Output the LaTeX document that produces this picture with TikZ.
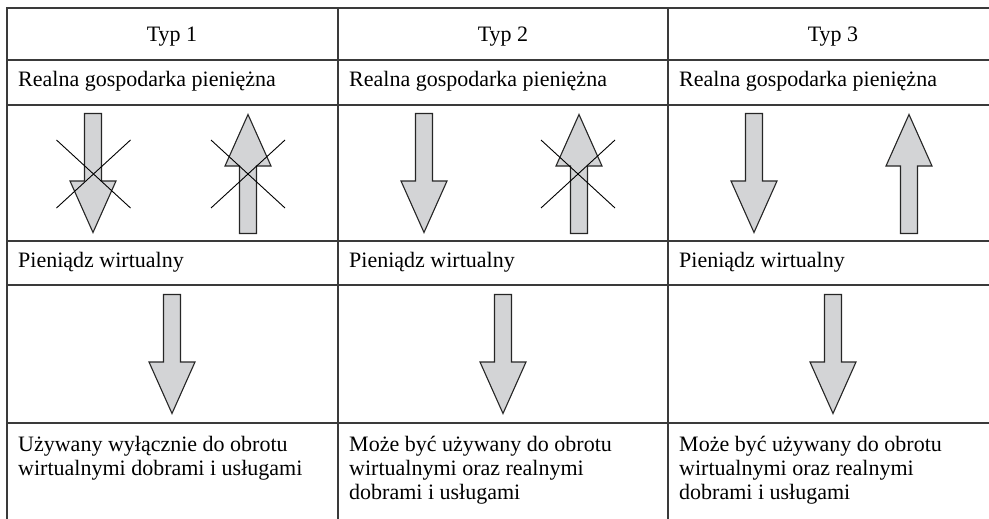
\documentclass[tikz,border=0pt]{standalone}
\usepackage{tikz}
\usepackage{xcolor}
\usepackage{fontspec}
\setmainfont{Liberation Serif}

\definecolor{rulegray}{HTML}{3A3A3A}
\definecolor{arrowfill}{HTML}{D3D4D6}

\tikzset{
  rule/.style={draw=rulegray, line width=1.3pt, line cap=rect},
  cell/.style={anchor=base west, inner sep=0pt, align=left,
    font=\fontsize{22}{24}\selectfont},
  head/.style={anchor=base, inner sep=0pt, font=\fontsize{22}{24}\selectfont},
  strike/.style={draw=black, line width=0.9pt},
  blockarrow/.pic={
    \draw[draw=black!85, fill=arrowfill, line width=1.1pt, line join=miter]
      (-8.5,-59.5) -- (8.5,-59.5) -- (8.5,8) -- (23,8) -- (0,59.5)
      -- (-23,8) -- (-8.5,8) -- cycle;
  },
  crossout/.pic={
    \draw[strike] (-37,-34) -- (37,34);
    \draw[strike] (-37,34) -- (37,-34);
  }
}

\begin{document}
\begin{tikzpicture}[x=1pt,y=-1pt]
		\useasboundingbox (0,0) rectangle (989,519);
		
		% Table rules
		\foreach \yy in {8,60,105,241,285,423}
			\draw[rule] (7,\yy) -- (989,\yy);
		\foreach \xx in {7,338,668}
			\draw[rule] (\xx,8) -- (\xx,519);
		
		% Header row
		\node[head] (typ1) at (172,42) {Typ 1};
		\node[head] (typ2) at (503,42) {Typ 2};
		\node[head] (typ3) at (833,42) {Typ 3};
		
		% Row labels in every column
		\foreach \xl/\n in {7/1,338/2,668/3} {
			\node[cell] (real\n) at (\xl+11,86.7) {Realna gospodarka pieniężna};
			\node[cell] (virt\n) at (\xl+11,267.7) {Pieniądz wirtualny};
		}
		
		% Upper arrows: real economy <-> virtual money
		\foreach \xl in {7,338,668} {
			\pic at (\xl+86,173) {blockarrow};           % down arrow
			\pic[rotate=180] at (\xl+241,174) {blockarrow}; % up arrow
		}
		
		% Crossed-out flows
		\pic at (93.5,174) {crossout};
		\pic at (248,174) {crossout};
		\pic at (578,174) {crossout};
		
		% Lower arrows: virtual money -> use
		\foreach \xl in {7,338,668}
			\pic at (\xl+165,354) {blockarrow};
		
		% Bottom row (anchored at the last line)
		\node[cell] (use1) at (18,475) {Używany wyłącznie do obrotu\\wirtualnymi dobrami i usługami};
		\node[cell] (use2) at (349,499) {Może być używany do obrotu\\wirtualnymi oraz realnymi\\dobrami i usługami};
		\node[cell] (use3) at (679,499) {Może być używany do obrotu\\wirtualnymi oraz realnymi\\dobrami i usługami};
	\end{tikzpicture}
\end{document}
